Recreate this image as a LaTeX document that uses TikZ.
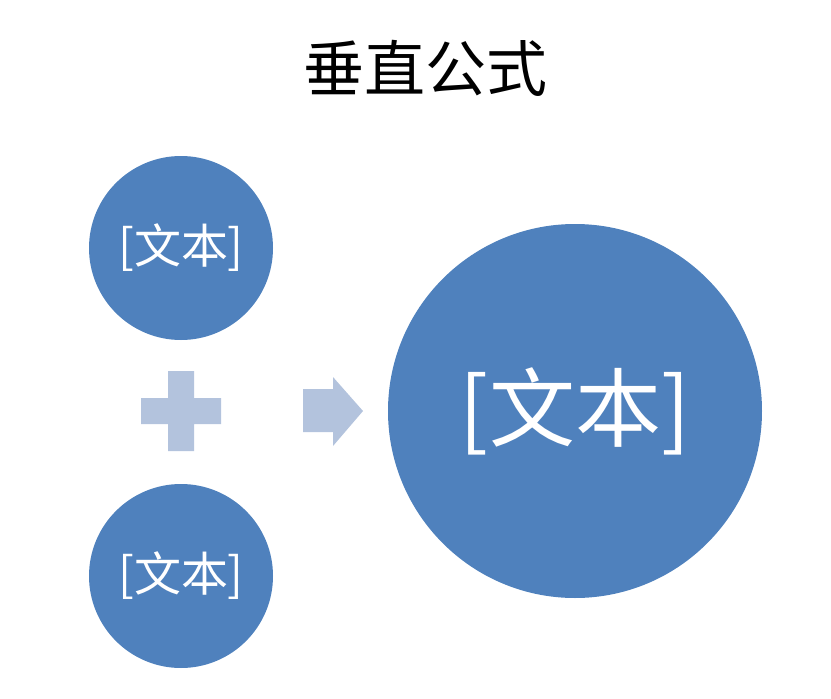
\documentclass[tikz,border=0pt]{standalone}
\usepackage{fontspec}
\setmainfont{Noto Sans CJK SC}
\usetikzlibrary{positioning}
\definecolor{circleblue}{HTML}{4F81BD}
\definecolor{shapeblue}{HTML}{B3C3DD}

\begin{document}
\begin{tikzpicture}[x=1pt,y=-1pt]

\tikzset{
bubble/.style={
circle,
fill=circleblue,
text=white,
inner sep=0pt
},
glyph/.style={
fill=shapeblue,
draw=none
}
}

\useasboundingbox (0,0) rectangle (831,699);

%--------------------------------------------------
% TITLE
%--------------------------------------------------

\node[font=\fontsize{61}{66}\selectfont] (title) at (425,68) {垂直公式};

%--------------------------------------------------
% INPUT CIRCLES
%--------------------------------------------------

\node[bubble,minimum size=184pt,font=\fontsize{47}{52}\selectfont]
(upper) at (181,248) {[文本]};

\node[bubble,minimum size=184pt,font=\fontsize{47}{52}\selectfont]
(lower) at (181,576) {[文本]};

%--------------------------------------------------
% PLUS AND ARROW
%--------------------------------------------------

\fill[glyph] (168,371) -- (194,371) -- (194,398) -- (221,398)
  -- (221,424) -- (194,424) -- (194,451) -- (168,451)
  -- (168,424) -- (141,424) -- (141,398) -- (168,398) -- cycle;

\fill[glyph] (303,389) -- (333,389) -- (333,377) -- (363,411)
  -- (333,446) -- (333,432) -- (303,432) -- cycle;

%--------------------------------------------------
% RESULT CIRCLE
%--------------------------------------------------

\node[bubble,minimum size=374pt,font=\fontsize{86}{92}\selectfont]
(result) at (575,411) {[文本]};

\end{tikzpicture}
\end{document}
